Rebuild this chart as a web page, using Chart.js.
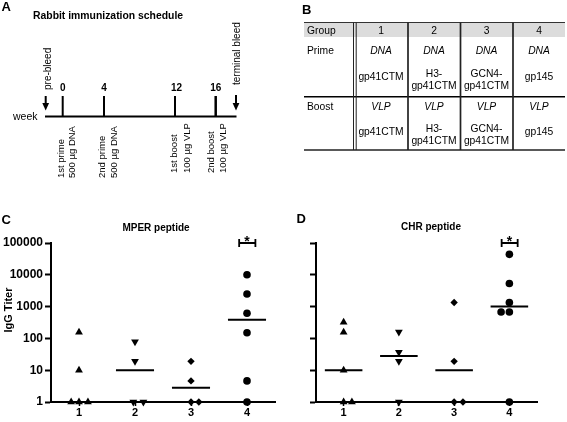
<!DOCTYPE html>
<html><head><meta charset="utf-8">
<script src="https://cdn.jsdelivr.net/npm/chart.js@4.4.0/dist/chart.umd.min.js"></script>
<style>
html,body{margin:0;padding:0;background:#fff;}
#wrap{position:relative;width:567px;height:422px;overflow:hidden;}
canvas{position:absolute;}
#cC{left:0;top:200px;width:290px;height:222px;}
#cD{left:290px;top:200px;width:277px;height:222px;}
#ov{position:absolute;left:0;top:0;}
</style></head>
<body><div id="wrap">
<canvas id="cC" width="290" height="222"></canvas>
<canvas id="cD" width="277" height="222"></canvas>
<svg id="ov" width="567" height="422" xmlns="http://www.w3.org/2000/svg"></svg>
</div>
<script>
// ---------------- DATA ----------------
const categories = ['1', '2', '3', '4'];
const yTickValues = [1, 10, 100, 1000, 10000, 100000];
const yAxisTitle = 'IgG Titer';
const mperTitle = 'MPER peptide';
const chrTitle = 'CHR peptide';

// Panel C: MPER peptide IgG titers (each value = one rabbit)
const mperGroup1 = [155, 10, 1, 1, 1];
const mperGroup2 = [79, 19, 1, 1];
const mperGroup3 = [19, 4.6, 1, 1];
const mperGroup4 = [10000, 2500, 620, 150, 4.6, 1];
const mperMedians = [1, 10, 2.8, 385];
// horizontal jitter of overlapping points (category units)
const mperJitter1 = [0, 0, -0.14, 0, 0.16];
const mperJitter2 = [0, 0, -0.03, 0.15];
const mperJitter3 = [0, 0, 0, 0.14];
const mperJitter4 = [0, 0, 0, 0, 0, 0];

// Panel D: CHR peptide IgG titers
const chrGroup1 = [320, 155, 10, 1, 1];
const chrGroup2 = [160, 37, 19, 1];
const chrGroup3 = [1350, 19, 1, 1];
const chrGroup4 = [44000, 5300, 1350, 680, 680, 1];
const chrMedians = [10, 28, 10, 1000];
const chrJitter1 = [0, 0, 0, 0, 0.15];
const chrJitter2 = [0, 0, 0, 0];
const chrJitter3 = [0, 0, 0, 0.16];
const chrJitter4 = [0, 0, 0, -0.15, 0, 0];

const sigGroup = 4;          // group marked significant
const sigLabel = '*';

// Panel A: immunization schedule
const scheduleTitle = 'Rabbit immunization schedule';
const weekLabels = ['0', '4', '12', '16'];
const eventLine1 = ['1st prime', '2nd prime', '1st boost', '2nd boost'];
const eventLine2 = ['500 µg DNA', '500 µg DNA', '100 µg VLP', '100 µg VLP'];
const bleedLabels = ['pre-bleed', 'terminal bleed'];

// Panel B: table
const tableHeader = ['Group', '1', '2', '3', '4'];
const primeVector = 'DNA';
const boostVector = 'VLP';
const antigens = [['gp41CTM'], ['H3-', 'gp41CTM'], ['GCN4-', 'gp41CTM'], ['gp145']];

// ---------------- STYLE / LAYOUT ----------------
const FONT = '"Liberation Sans", Arial, Helvetica, sans-serif';
const markerStyles = [
  {style: 'triangle', rotation: 0, radius: 4.5},
  {style: 'triangle', rotation: 180, radius: 4.5},
  {style: 'rectRot', rotation: 0, radius: 3.7},
  {style: 'circle', rotation: 0, radius: 3.8}
];
const medianHalfWidth = 0.34;

const sigPlugin = {
  id: 'sigStar',
  afterDatasetsDraw(chart) {
    const {ctx, scales: {x, y}} = chart;
    ctx.save();
    ctx.font = 'bold 14px ' + FONT;
    ctx.fillStyle = '#000';
    ctx.textAlign = 'center';
    ctx.textBaseline = 'alphabetic';
    ctx.fillText(sigLabel, x.getPixelForValue(sigGroup), y.getPixelForValue(100000) + 3);
    ctx.restore();
  }
};

function buildPanel(canvasId, groups, jitters, medians, opt) {
  const datasets = [];
  groups.forEach((vals, gi) => {
    const m = markerStyles[gi];
    datasets.push({
      data: vals.map((v, k) => ({x: gi + 1 + jitters[gi][k], y: v})),
      pointStyle: m.style, pointRotation: m.rotation, pointRadius: m.radius,
      backgroundColor: '#000', borderColor: '#000', borderWidth: 0, clip: false
    });
  });
  const med = [];
  medians.forEach((m, gi) => {
    med.push({x: gi + 1 - medianHalfWidth, y: m}, {x: gi + 1 + medianHalfWidth, y: m}, {x: gi + 1.5, y: null});
  });
  datasets.push({data: med, showLine: true, spanGaps: false, borderColor: '#000', borderWidth: 2,
    pointRadius: 0, clip: false});
  const g = sigGroup;
  const lo = 75000, hi = 134000, top = 100000;
  datasets.push({data: [
      {x: g - 0.14, y: lo}, {x: g - 0.14, y: hi}, {x: g, y: null},
      {x: g - 0.14, y: top}, {x: g + 0.15, y: top}, {x: g + 0.1, y: null},
      {x: g + 0.15, y: lo}, {x: g + 0.15, y: hi}],
    showLine: true, spanGaps: false, borderColor: '#000', borderWidth: 1.8, pointRadius: 0, clip: false});

  return new Chart(document.getElementById(canvasId), {
    type: 'scatter',
    data: {datasets},
    plugins: [sigPlugin],
    options: {
      responsive: false, animation: false, events: [],
      layout: {padding: {left: 0, right: opt.padRight, top: 43, bottom: 0}},
      plugins: {legend: {display: false}, tooltip: {enabled: false}, title: {display: false}},
      scales: {
        x: {
          type: 'linear', min: 0.5, max: 4.5,
          afterBuildTicks: s => { s.ticks = categories.map((c, i) => ({value: i + 1})); },
          afterFit: s => { s.height = 20; },
          ticks: {callback: v => categories[Math.round(v) - 1], color: '#000',
            font: {family: FONT, size: 11, weight: 'bold', lineHeight: 1}, padding: 1, maxRotation: 0, autoSkip: false},
          grid: {display: true, drawOnChartArea: false, drawTicks: true, tickLength: 4, color: '#000', tickWidth: 1.5},
          border: {display: true, color: '#000', width: 2}
        },
        y: {
          type: 'logarithmic', min: 1, max: 100000,
          afterBuildTicks: s => { s.ticks = yTickValues.map(v => ({value: v})); },
          afterFit: s => { s.width = opt.yWidth; },
          ticks: {display: opt.showLabels, callback: v => String(v), color: '#000',
            font: {family: FONT, size: 12, weight: 'bold'}, padding: 2, autoSkip: false},
          grid: {display: true, drawOnChartArea: false, drawTicks: true, tickLength: 6, color: '#000', tickWidth: 2},
          border: {display: true, color: '#000', width: 2}
        }
      }
    }
  });
}

buildPanel('cC', [mperGroup1, mperGroup2, mperGroup3, mperGroup4],
  [mperJitter1, mperJitter2, mperJitter3, mperJitter4], mperMedians,
  {padRight: 15, yWidth: 51, showLabels: true});
buildPanel('cD', [chrGroup1, chrGroup2, chrGroup3, chrGroup4],
  [chrJitter1, chrJitter2, chrJitter3, chrJitter4], chrMedians,
  {padRight: 30, yWidth: 26, showLabels: false});

// ---------------- SVG overlay (panel A, B, titles) ----------------
let s = '';
function txt(x, y, str, o = {}) {
  const size = o.size || 10, w = o.weight || 'normal', st = o.style || 'normal', a = o.anchor || 'start';
  const tr = o.rot ? ` transform="rotate(${o.rot} ${x} ${y})"` : '';
  s += `<text x="${x}" y="${y}" font-family='${FONT}' font-size="${size}" font-weight="${w}" font-style="${st}" text-anchor="${a}" fill="#000"${tr}>${str}</text>`;
}
function ln(x1, y1, x2, y2, w, c = '#000') {
  s += `<line x1="${x1}" y1="${y1}" x2="${x2}" y2="${y2}" stroke="${c}" stroke-width="${w}"/>`;
}
// panel letters
txt(1.5, 11, 'A', {size: 13, weight: 'bold'});
txt(302, 13.5, 'B', {size: 13, weight: 'bold'});
txt(1.5, 223.5, 'C', {size: 13, weight: 'bold'});
txt(296.5, 222.5, 'D', {size: 13, weight: 'bold'});

// Panel A
txt(33, 18.5, scheduleTitle, {size: 10.4, weight: 'bold'});
txt(13, 119.5, 'week', {size: 10.5});
ln(45, 116.5, 236.5, 116.5, 2);
const weekX = [62.7, 104, 175, 215.7];
weekX.forEach((x, i) => {
  ln(x, 96, x, 116.5, i === 3 ? 2.5 : 2);
  txt(x + (i === 2 ? 1.5 : 0), 91, weekLabels[i], {size: 10, weight: 'bold', anchor: 'middle'});
});
const l1x = [60.5, 102, 173.7, 210.5], l2x = [72, 113.7, 187, 222.7], lb = [178, 178, 173, 173];
eventLine1.forEach((t, i) => {
  txt(l1x[i] + 3.4, lb[i], t, {size: 9.5, rot: -90});
  txt(l2x[i] + 3.4, lb[i], eventLine2[i], {size: 9.5, rot: -90});
});
// arrows
[[45.7, 96, 90, 47.3, bleedLabels[0]], [236, 95, 85, 236.3, bleedLabels[1]]].forEach(([ax, ay, tb, tx, lab]) => {
  ln(ax, ay, ax, 104, 2);
  s += `<polygon points="${ax - 3.4},103 ${ax + 3.4},103 ${ax},110.5" fill="#000"/>`;
  txt(tx + 3.5, tb, lab, {size: 10, rot: -90});
});

// Panel B table
const tL = 304, tR = 565, tTop = 22.5, hBot = 37, rowSep = 96.8, tBot = 150;
s += `<rect x="${tL}" y="${tTop}" width="${tR - tL}" height="${hBot - tTop}" fill="#dcdcdc"/>`;
ln(tL, tTop, tR, tTop, 1, '#333');
ln(tL, rowSep, tR, rowSep, 1.5);
ln(tL, tBot, tR, tBot, 1.5, '#222');
ln(353.5, tTop, 353.5, tBot, 1, '#222');
ln(356.2, tTop, 356.2, tBot, 1, '#222');
[408, 460.5, 513].forEach(x => ln(x, tTop, x, tBot, 1.7, '#222'));
const colC = [381, 434, 486.5, 539];
txt(307, 34, tableHeader[0], {size: 10.3});
colC.forEach((c, i) => txt(c, 34, tableHeader[i + 1], {size: 10.3, anchor: 'middle'}));
txt(307, 54.4, 'Prime', {size: 10.3});
txt(307, 109.7, 'Boost', {size: 10.3});
colC.forEach((c, i) => {
  txt(c, 54.4, primeVector, {size: 10.3, style: 'italic', anchor: 'middle'});
  txt(c, 109.7, boostVector, {size: 10.3, style: 'italic', anchor: 'middle'});
  const a = antigens[i];
  if (a.length === 1) {
    txt(c, 79.5, a[0], {size: 10.3, anchor: 'middle'});
    txt(c, 134.5, a[0], {size: 10.3, anchor: 'middle'});
  } else {
    txt(c, 76.5, a[0], {size: 10.3, anchor: 'middle'});
    txt(c, 89.3, a[1], {size: 10.3, anchor: 'middle'});
    txt(c, 131.5, a[0], {size: 10.3, anchor: 'middle'});
    txt(c, 144.3, a[1], {size: 10.3, anchor: 'middle'});
  }
});

// chart titles & y-axis title
txt(156, 231, mperTitle, {size: 10, weight: 'bold', anchor: 'middle'});
txt(431, 229.5, chrTitle, {size: 10, weight: 'bold', anchor: 'middle'});
txt(12, 310, yAxisTitle, {size: 11, weight: 'bold', anchor: 'middle', rot: -90});

document.getElementById('ov').innerHTML = s;
</script>
</body></html>
